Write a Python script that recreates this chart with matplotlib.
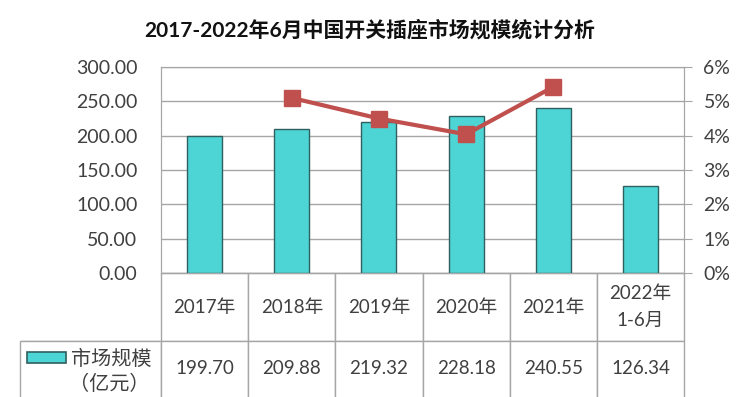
import matplotlib.pyplot as plt
from matplotlib.patches import Rectangle
from matplotlib.ticker import FuncFormatter

plt.rcParams['font.family'] = ['Lato', 'Noto Sans CJK SC', 'DejaVu Sans']

# data
years = ['2017年', '2018年', '2019年', '2020年', '2021年', '2022年\n1-6月']
market = [199.70, 209.88, 219.32, 228.18, 240.55, 126.34]
growth_idx = [1, 2, 3, 4]
growth = [5.10, 4.50, 4.04, 5.42]   # %

bar_color = '#4dd4d4'
line_color = '#c0504d'
grid_color = '#a6a6a6'
txt_color = '#404040'

fig = plt.figure(figsize=(7.44, 3.97), dpi=100)
ax = fig.add_axes([161/744, 1-273/397, 523/744, 206/397])

x = list(range(len(market)))
ax.bar(x, market, width=0.4, color=bar_color, edgecolor='#2f5f5f', linewidth=1, zorder=3)
ax.set_xlim(-0.5, len(market)-0.5)
ax.set_ylim(0, 300)
ax.set_yticks(range(0, 301, 50))
ax.yaxis.set_major_formatter(FuncFormatter(lambda v, p: '%.2f' % v))
ax.set_xticks([])
ax.grid(axis='y', color=grid_color, linewidth=1, zorder=0)
ax.tick_params(axis='y', length=0, pad=17, labelsize=14, labelcolor=txt_color)
for s in ax.spines.values():
    s.set_color(grid_color)

ax2 = ax.twinx()
ax2.plot(growth_idx, growth, color=line_color, linewidth=3, marker='s',
         markersize=11, zorder=4)
ax2.set_ylim(0, 6)
ax2.set_yticks(range(0, 7))
ax2.yaxis.set_major_formatter(FuncFormatter(lambda v, p: '%d%%' % v))
ax2.tick_params(axis='y', length=6, color=grid_color, pad=8, labelsize=14,
                labelcolor=txt_color)
for s in ax2.spines.values():
    s.set_color(grid_color)

# data table under the axes (first column holds the legend key)
cells = [[''] + ['%.2f' % v for v in market]]
tbl = ax.table(cellText=cells, colLabels=[''] + years,
               colWidths=[141/523] + [87/523]*len(years),
               cellLoc='center',
               bbox=[-141/523, -124/206, 664/523, 124/206])
tbl.auto_set_font_size(False)
tbl.set_fontsize(13.5)
for (r, c), cell in tbl.get_celld().items():
    cell.set_edgecolor(grid_color)
    cell.set_linewidth(1)
    cell.set_height(68 if r == 0 else 56)
    cell.get_text().set_color(txt_color)
    cell.get_text().set_linespacing(1.75)
    if r == 1:
        cell.visible_edges = 'LRT'
    if r == 0 and c == 0:
        cell.visible_edges = 'B'

# legend key inside the first cell
ax.add_patch(Rectangle((-0.5 - 134/87, -90/206 * 300), 39/87, 11/206 * 300,
                       transform=ax.transData, clip_on=False,
                       facecolor=bar_color, edgecolor='#2f5f5f', linewidth=1.2))
ax.text(-0.5 - 50/87, -85/206 * 300, '市场规模', ha='center', va='center',
        fontsize=14.5, color=txt_color)
ax.text(-0.5 - 52/87, -110/206 * 300, '（亿元）', ha='center', va='center',
        fontsize=14.5, color=txt_color)

fig.text(0.497, 1-30/397, '2017-2022年6月中国开关插座市场规模统计分析',
         ha='center', va='center', fontsize=15, fontweight='bold', color='#111111')

fig.savefig('out.png', dpi=100)
